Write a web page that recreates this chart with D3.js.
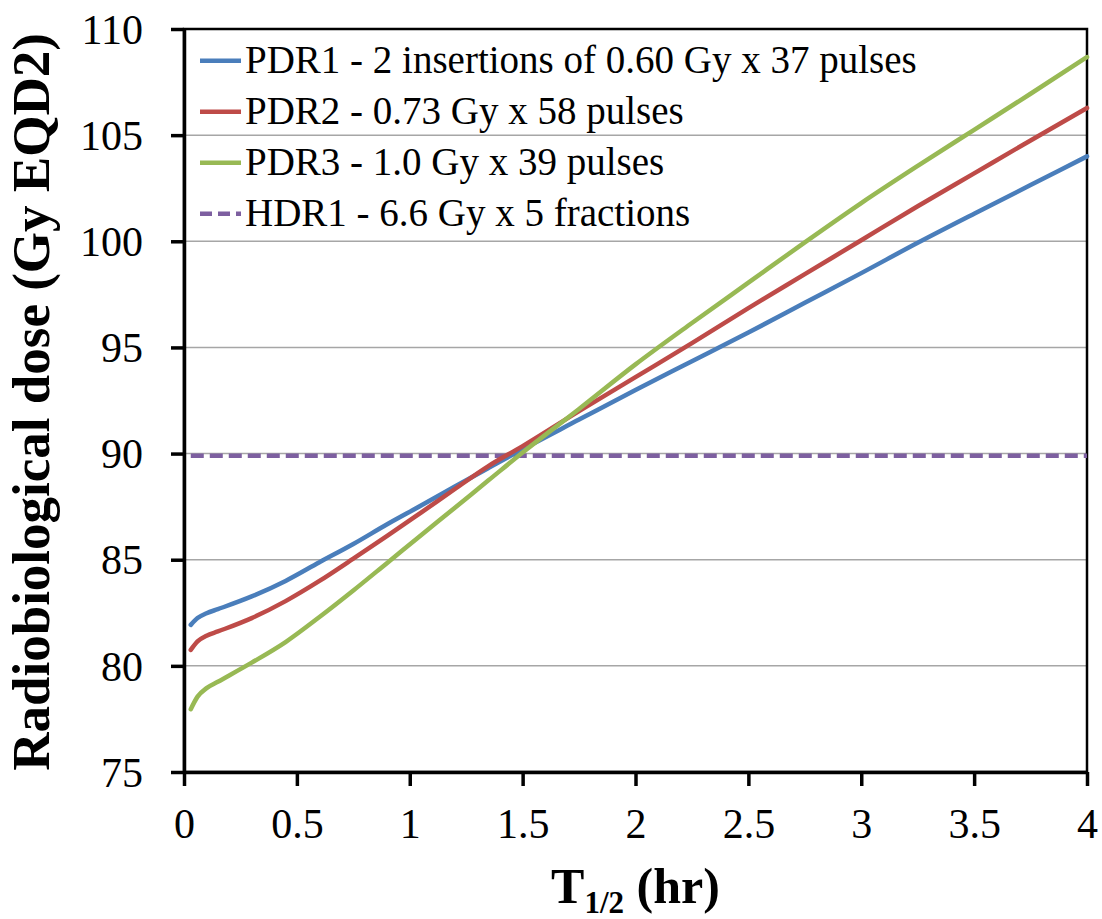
<!DOCTYPE html>
<html>
<head>
<meta charset="utf-8">
<script src="https://cdn.jsdelivr.net/npm/d3@7"></script>
<style>
  body { margin: 0; background: #fff; }
</style>
</head>
<body>
<div id="chart"></div>
<script>
let tHalf = [0.03, 0.06, 0.1, 0.15, 0.3, 0.45, 0.6, 0.75, 0.9, 1.05, 1.2, 1.35, 1.5, 1.75, 2, 2.25, 2.5, 2.75, 3, 3.25, 3.5, 3.75, 4]

let pdr1 = [81.93, 82.25, 82.48, 82.67, 83.27, 84.0, 84.88, 85.74, 86.67, 87.55, 88.45, 89.33, 90.2, 91.6, 93.0, 94.35, 95.7, 97.1, 98.5, 99.93, 101.3, 102.65, 104.0]
let pdr2 = [80.75, 81.15, 81.42, 81.62, 82.25, 83.05, 84.0, 85.05, 86.12, 87.22, 88.33, 89.42, 90.35, 92.0, 93.6, 95.2, 96.85, 98.45, 100.05, 101.65, 103.2, 104.75, 106.28]
let pdr3 = [77.96, 78.55, 78.95, 79.25, 80.15, 81.12, 82.3, 83.55, 84.85, 86.15, 87.45, 88.75, 90.05, 92.1, 94.2, 96.15, 98.05, 99.95, 101.8, 103.55, 105.25, 106.95, 108.68]
let hdr1 = 89.9
let hdrRange = [0.03, 4]

let seriesNames = [
  'PDR1 - 2 insertions of 0.60 Gy x 37 pulses',
  'PDR2 - 0.73 Gy x 58 pulses',
  'PDR3 - 1.0 Gy x 39 pulses',
  'HDR1 - 6.6 Gy x 5 fractions'
]
let seriesColors = ['#4a7ebb', '#be4b48', '#98b954', '#7d5fa0']

let xTicks = [0, 0.5, 1, 1.5, 2, 2.5, 3, 3.5, 4]
let yTicks = [75, 80, 85, 90, 95, 100, 105, 110]

let serif = 'Liberation Serif, Times New Roman, serif'

let margin = { top: 29, left: 184, right: 15, bottom: 147 }
let width = 1102 - margin.left - margin.right
let height = 919 - margin.top - margin.bottom

let svg = d3
  .select('#chart')
  .append('svg')
  .attr('width', 1102)
  .attr('height', 919)
  .attr('font-family', serif)
  .append('g')
  .attr('transform', 'translate(' + margin.left + ',' + margin.top + ')')

let xPositionScale = d3.scaleLinear().domain([0, 4]).range([0, width])
let yPositionScale = d3.scaleLinear().domain([75, 110]).range([height, 0])

// gridlines
svg
  .selectAll('.grid')
  .data(yTicks.slice(1, -1))
  .enter()
  .append('line')
  .attr('class', 'grid')
  .attr('x1', 0)
  .attr('x2', width)
  .attr('y1', d => yPositionScale(d))
  .attr('y2', d => yPositionScale(d))
  .attr('stroke', '#a6a6a6')
  .attr('stroke-width', 1.5)

// plot area border
svg
  .append('rect')
  .attr('x', 0)
  .attr('y', 0)
  .attr('width', width)
  .attr('height', height)
  .attr('fill', 'none')
  .attr('stroke', '#000')
  .attr('stroke-width', 2.5)

let xAxis = d3
  .axisBottom(xPositionScale)
  .tickValues(xTicks)
  .tickSize(14)
  .tickSizeOuter(0)
  .tickPadding(22)
  .tickFormat(d3.format('~g'))
svg
  .append('g')
  .attr('class', 'axis x-axis')
  .attr('transform', 'translate(0,' + height + ')')
  .call(xAxis)

let yAxis = d3
  .axisLeft(yPositionScale)
  .tickValues(yTicks)
  .tickSize(13)
  .tickSizeOuter(0)
  .tickPadding(28)
svg
  .append('g')
  .attr('class', 'axis y-axis')
  .call(yAxis)

svg.selectAll('.axis').attr('font-family', serif)
svg.selectAll('.axis path').attr('stroke', '#000').attr('stroke-width', 3.5)
svg.selectAll('.axis line').attr('stroke', '#000').attr('stroke-width', 3.5)
svg
  .selectAll('.axis text')
  .attr('font-size', 42)
  .attr('fill', '#000')
svg.selectAll('.y-axis text').attr('dy', '0.34em')

let line = d3
  .line()
  .x(d => xPositionScale(d[0]))
  .y(d => yPositionScale(d[1]))
  .curve(d3.curveMonotoneX)

let curves = [pdr1, pdr2, pdr3]

// HDR reference line (dashed)
svg
  .append('path')
  .attr('class', 'hdr')
  .attr('d', line(hdrRange.map(t => [t, hdr1])))
  .attr('stroke', seriesColors[3])
  .attr('stroke-width', 4.5)
  .attr('stroke-dasharray', '13,6')
  .attr('fill', 'none')

svg
  .selectAll('.dose')
  .data(curves)
  .enter()
  .append('path')
  .attr('class', 'dose')
  .attr('d', d => line(tHalf.map((t, i) => [t, d[i]])))
  .attr('stroke', (d, i) => seriesColors[i])
  .attr('stroke-width', 4.5)
  .attr('stroke-linecap', 'round')
  .attr('fill', 'none')

// legend
let legend = svg
  .selectAll('.legend')
  .data(seriesNames)
  .enter()
  .append('g')
  .attr('class', 'legend')
  .attr('transform', (d, i) => 'translate(16,' + (31.7 + i * 51) + ')')

legend
  .append('line')
  .attr('x1', 0)
  .attr('x2', 41)
  .attr('y1', 0)
  .attr('y2', 0)
  .attr('stroke', (d, i) => seriesColors[i])
  .attr('stroke-width', 4.5)
  .attr('stroke-dasharray', (d, i) => (i === 3 ? '12,6' : null))

legend
  .append('text')
  .attr('x', 45)
  .attr('y', 12)
  .attr('font-family', serif)
  .attr('font-size', 39)
  .attr('fill', '#000')
  .text(d => d)

// axis titles
svg
  .append('text')
  .attr('transform', 'rotate(-90)')
  .attr('x', -(402 - margin.top))
  .attr('y', 49 - margin.left)
  .attr('text-anchor', 'middle')
  .attr('font-family', serif)
  .attr('font-size', 53)
  .attr('font-weight', 'bold')
  .text('Radiobiological dose (Gy EQD2)')

let xTitle = svg
  .append('text')
  .attr('x', width / 2)
  .attr('y', 903 - margin.top)
  .attr('text-anchor', 'middle')
  .attr('font-family', serif)
  .attr('font-size', 50)
  .attr('font-weight', 'bold')
xTitle.append('tspan').text('T')
xTitle
  .append('tspan')
  .attr('font-size', 31)
  .attr('dy', 10)
  .text('1/2')
xTitle
  .append('tspan')
  .attr('dy', -10)
  .text(' (hr)')
</script>
</body>
</html>
